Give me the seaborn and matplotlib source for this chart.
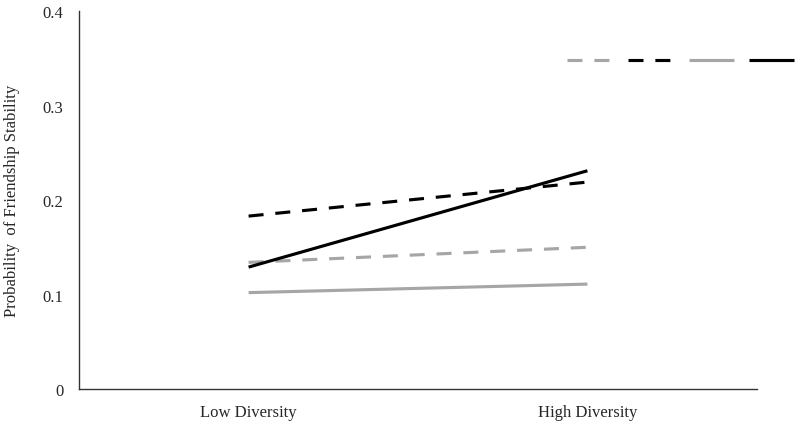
import numpy as np
import pandas as pd
import matplotlib
matplotlib.use("Agg")
import matplotlib.pyplot as plt
import seaborn as sns

# data
categories = ["Low Diversity", "High Diversity"]
gray_solid = [0.102, 0.111]
gray_dashed = [0.134, 0.150]
black_dashed = [0.183, 0.219]
black_solid = [0.129, 0.231]
y_ticks = [0, 0.1, 0.2, 0.3, 0.4]
y_tick_labels = ["0", "0.1", "0.2", "0.3", "0.4"]

sns.set_style("white")
plt.rcParams['font.family'] = ['Liberation Serif', 'DejaVu Serif']

fig = plt.figure(figsize=(8, 4.27), dpi=100)
ax = fig.add_axes([0.099, 0.0867, 0.847, 0.885])

gray = "#a6a6a6"
series = [
    ("gs", gray_solid, gray, "-"),
    ("gd", gray_dashed, gray, (0, (4.8, 3.8))),
    ("bd", black_dashed, "black", (0, (4.8, 3.8))),
    ("bs", black_solid, "black", "-"),
]
handles = {}
for name, vals, col, ls in series:
    df = pd.DataFrame({"cat": categories, "val": vals})
    sns.lineplot(data=df, x="cat", y="val", ax=ax, color=col, linewidth=2.25,
                 linestyle=ls, solid_capstyle="butt", dash_capstyle="butt")
    handles[name] = ax.lines[-1]

ax.set_xlim(-0.5, 1.5)
ax.set_ylim(0, 0.4)
ax.set_yticks(y_ticks)
ax.set_yticklabels(y_tick_labels)
ax.set_xlabel("")
ax.set_ylabel("Probability  of Friendship Stability", fontsize=12, labelpad=16)
ax.tick_params(axis="y", length=0, pad=11.5, labelsize=12)
ax.tick_params(axis="x", length=0, pad=11, labelsize=12)
sns.despine(ax=ax)
for s in ["left", "bottom"]:
    ax.spines[s].set_color("#333333")
    ax.spines[s].set_linewidth(1.0)

order = ["gd", "bd", "gs", "bs"]
fig.legend([handles[k] for k in order], ["", "", "", ""], ncol=4,
           loc="center right", bbox_to_anchor=(0.993, 0.852),
           frameon=False, borderpad=0, borderaxespad=0,
           handlelength=2.7, handletextpad=0, columnspacing=0.95,
           fontsize=12)

fig.savefig("out.png", dpi=100)
